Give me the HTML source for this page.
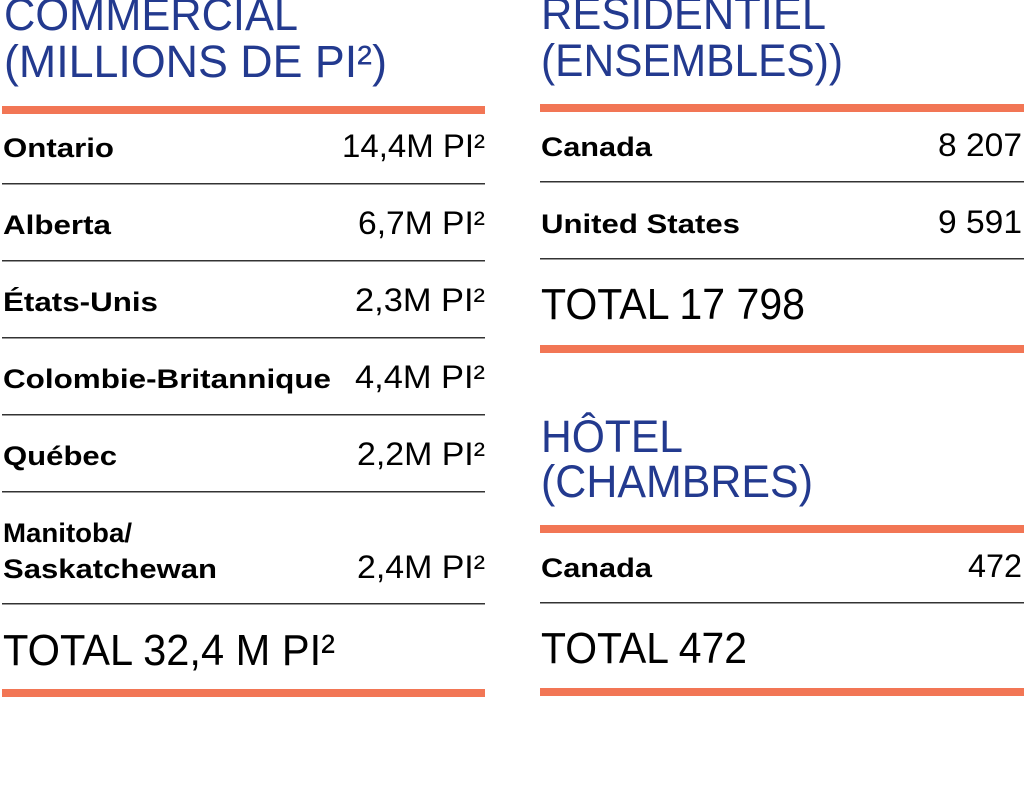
<!DOCTYPE html>
<html><head><meta charset="utf-8"><style>
html,body{margin:0;padding:0;background:#fff;width:1024px;height:785px;overflow:hidden}
text{font-family:"Liberation Sans",sans-serif}
.t{fill:#233a8f;font-size:45px}
.b{font-weight:bold;font-size:27px;fill:#000}
.v{font-size:32px;fill:#000}
.tot{font-size:44px;fill:#000}
</style></head><body>
<svg width="1024" height="785" xmlns="http://www.w3.org/2000/svg">
<g fill="#f27655">
<rect x="2" y="106" width="483" height="8"/>
<rect x="2" y="689" width="483" height="8"/>
<rect x="540" y="104" width="484" height="8"/>
<rect x="540" y="345" width="484" height="8"/>
<rect x="540" y="525" width="484" height="8"/>
<rect x="540" y="688" width="484" height="8"/>
</g>
<g fill="#333">
<rect x="2" y="183" width="483" height="1.5"/>
<rect x="2" y="260" width="483" height="1.5"/>
<rect x="2" y="337" width="483" height="1.5"/>
<rect x="2" y="414" width="483" height="1.5"/>
<rect x="2" y="491" width="483" height="1.5"/>
<rect x="2" y="603" width="483" height="1.5"/>
<rect x="540" y="181" width="484" height="1.5"/>
<rect x="540" y="258" width="484" height="1.5"/>
<rect x="540" y="602" width="484" height="1.5"/>
</g>
<text class="t" x="4" y="30" textLength="294" lengthAdjust="spacingAndGlyphs">COMMERCIAL</text>
<text class="t" x="4" y="77" textLength="383" lengthAdjust="spacingAndGlyphs">(MILLIONS DE PI²)</text>
<text class="b" x="3" y="157" textLength="111" lengthAdjust="spacingAndGlyphs">Ontario</text>
<text class="v" x="342" y="157" textLength="143" lengthAdjust="spacingAndGlyphs">14,4M PI²</text>
<text class="b" x="3" y="234" textLength="108" lengthAdjust="spacingAndGlyphs">Alberta</text>
<text class="v" x="358" y="234" textLength="127" lengthAdjust="spacingAndGlyphs">6,7M PI²</text>
<text class="b" x="3" y="311" textLength="155" lengthAdjust="spacingAndGlyphs">États-Unis</text>
<text class="v" x="355" y="311" textLength="130" lengthAdjust="spacingAndGlyphs">2,3M PI²</text>
<text class="b" x="3" y="388" textLength="328" lengthAdjust="spacingAndGlyphs">Colombie-Britannique</text>
<text class="v" x="355" y="388" textLength="130" lengthAdjust="spacingAndGlyphs">4,4M PI²</text>
<text class="b" x="3" y="465" textLength="114" lengthAdjust="spacingAndGlyphs">Québec</text>
<text class="v" x="357" y="465" textLength="128" lengthAdjust="spacingAndGlyphs">2,2M PI²</text>
<text class="b" x="3" y="542" textLength="129" lengthAdjust="spacingAndGlyphs">Manitoba/</text>
<text class="b" x="3" y="578" textLength="214" lengthAdjust="spacingAndGlyphs">Saskatchewan</text>
<text class="v" x="357" y="578" textLength="128" lengthAdjust="spacingAndGlyphs">2,4M PI²</text>
<text class="tot" x="3" y="665" textLength="332" lengthAdjust="spacingAndGlyphs">TOTAL 32,4 M PI²</text>

<text class="t" x="541" y="29" textLength="285" lengthAdjust="spacingAndGlyphs">RESIDENTIEL</text>
<text class="t" x="541" y="76" textLength="302" lengthAdjust="spacingAndGlyphs">(ENSEMBLES))</text>
<text class="b" x="541" y="156" textLength="111" lengthAdjust="spacingAndGlyphs">Canada</text>
<text class="v" x="938" y="156" textLength="84" lengthAdjust="spacingAndGlyphs">8 207</text>
<text class="b" x="541" y="233" textLength="199" lengthAdjust="spacingAndGlyphs">United States</text>
<text class="v" x="938" y="233" textLength="84" lengthAdjust="spacingAndGlyphs">9 591</text>
<text class="tot" x="541" y="319" textLength="264" lengthAdjust="spacingAndGlyphs">TOTAL 17 798</text>
<text class="t" x="541" y="452" textLength="142" lengthAdjust="spacingAndGlyphs">HÔTEL</text>
<text class="t" x="541" y="497" textLength="272" lengthAdjust="spacingAndGlyphs">(CHAMBRES)</text>
<text class="b" x="541" y="577" textLength="111" lengthAdjust="spacingAndGlyphs">Canada</text>
<text class="v" x="968" y="577" textLength="54" lengthAdjust="spacingAndGlyphs">472</text>
<text class="tot" x="541" y="663" textLength="206" lengthAdjust="spacingAndGlyphs">TOTAL 472</text>
</svg>
</body></html>
